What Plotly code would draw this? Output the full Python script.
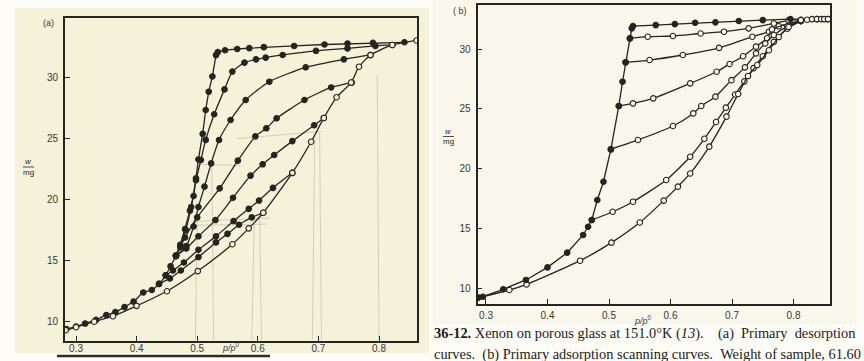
import plotly.graph_objects as go

W, H = 864, 361
INK = "#262420"
CREAM_A = "#f5f2da"
CREAM_B = "#f9f7eb"
PAGE = "#fcfbf6"

# ---------------- Panel (a): primary desorption curves ----------------
# adsorption boundary (open circles)
a_ads_x = [0.283, 0.300, 0.330, 0.361, 0.400, 0.450, 0.501, 0.558, 0.585, 0.609,
           0.657, 0.688, 0.709, 0.730, 0.754, 0.767, 0.786, 0.822, 0.862]
a_ads_y = [9.30, 9.55, 10.00, 10.45, 11.30, 12.50, 14.15, 16.35, 17.65, 18.93,
           22.20, 24.75, 26.70, 28.40, 29.60, 30.90, 31.85, 32.68, 33.05]

# common low-pressure desorption tail (filled)
a_tail_x = [0.465, 0.456, 0.448, 0.437, 0.425, 0.411, 0.395, 0.380, 0.365, 0.350,
            0.333, 0.315, 0.300, 0.284]
a_tail_y = [15.40, 14.55, 13.80, 13.10, 12.60, 12.40, 11.65, 11.20, 10.80, 10.55,
            10.15, 9.85, 9.60, 9.40]

# desorption scanning curves, each starting on the adsorption boundary
a_d1_x = [0.842, 0.790, 0.748, 0.710, 0.660, 0.610, 0.586, 0.566, 0.546, 0.534,
          0.531, 0.525, 0.519, 0.514, 0.509, 0.502, 0.498, 0.494, 0.488, 0.480,
          0.472, 0.465]
a_d1_y = [32.90, 32.85, 32.80, 32.72, 32.60, 32.50, 32.42, 32.35, 32.25, 32.10,
          31.85, 30.10, 28.85, 27.35, 25.40, 23.30, 21.75, 20.30, 19.10, 17.60,
          16.30, 15.40]
a_d2_x = [0.822, 0.794, 0.748, 0.696, 0.641, 0.613, 0.597, 0.578, 0.558, 0.545,
          0.528, 0.514, 0.506, 0.498, 0.490, 0.481, 0.472, 0.465]
a_d2_y = [32.68, 32.60, 32.40, 32.20, 31.86, 31.64, 31.50, 31.23, 30.50, 29.04,
          27.00, 24.90, 23.25, 21.60, 19.40, 17.50, 16.10, 15.40]
a_d3_x = [0.786, 0.742, 0.679, 0.619, 0.580, 0.555, 0.536, 0.523, 0.512, 0.502,
          0.494, 0.482, 0.465]
a_d3_y = [31.86, 31.50, 30.85, 29.67, 28.17, 26.53, 24.89, 22.98, 21.07, 19.40,
          17.80, 16.20, 15.40]
a_d4_x = [0.755, 0.721, 0.677, 0.631, 0.614, 0.596, 0.567, 0.537, 0.500, 0.480, 0.465]
a_d4_y = [29.60, 29.20, 28.17, 26.67, 25.85, 25.19, 23.20, 20.93, 18.55, 16.90, 15.40]
a_d5_x = [0.709, 0.693, 0.657, 0.627, 0.608, 0.588, 0.559, 0.530, 0.502, 0.482, 0.465]
a_d5_y = [26.70, 26.10, 24.80, 23.66, 22.90, 21.97, 20.16, 18.33, 17.00, 16.00, 15.40]
a_d6_x = [0.657, 0.625, 0.602, 0.585, 0.560, 0.531, 0.502, 0.478, 0.460, 0.448]
a_d6_y = [22.20, 20.97, 19.93, 19.25, 18.25, 17.00, 15.90, 14.85, 14.20, 13.80]
a_d7_x = [0.609, 0.590, 0.569, 0.550, 0.531, 0.502, 0.473, 0.455, 0.437]
a_d7_y = [18.93, 18.55, 17.95, 17.20, 16.50, 15.30, 14.20, 13.55, 13.10]

# ---------------- Panel (b): primary adsorption scanning curves ----------------
# desorption boundary (filled)
b_des_x = [0.856, 0.838, 0.795, 0.750, 0.711, 0.673, 0.640, 0.607, 0.576, 0.539,
           0.537, 0.534, 0.527, 0.522, 0.516, 0.503, 0.491, 0.481, 0.472, 0.466,
           0.458, 0.432, 0.400, 0.365, 0.328, 0.295, 0.287]
b_des_y = [32.50, 32.50, 32.50, 32.42, 32.34, 32.23, 32.20, 32.08, 32.00, 31.92,
           31.73, 30.89, 28.89, 27.27, 25.24, 21.62, 18.91, 17.38, 15.71, 15.15,
           14.46, 12.98, 11.75, 10.70, 9.92, 9.30, 9.22]
# adsorption boundary (open)
b_ads_x = [0.287, 0.338, 0.366, 0.453, 0.504, 0.550, 0.589, 0.612, 0.632, 0.663,
           0.691, 0.710, 0.726, 0.741, 0.760, 0.776, 0.792, 0.812]
b_ads_y = [9.22, 9.86, 10.33, 12.31, 13.82, 15.50, 17.33, 18.50, 19.60, 21.84,
           24.35, 26.24, 27.74, 28.66, 29.90, 31.00, 31.85, 32.35]
# adsorption scanning curves, each starting on the desorption boundary
b_s1_x = [0.534, 0.563, 0.604, 0.649, 0.687, 0.727, 0.768, 0.792, 0.812]
b_s1_y = [30.89, 31.03, 31.09, 31.30, 31.45, 31.73, 32.14, 32.40, 32.45]
b_s2_x = [0.527, 0.566, 0.620, 0.679, 0.733, 0.760, 0.776, 0.812]
b_s2_y = [28.89, 29.08, 29.50, 30.10, 31.03, 31.45, 31.90, 32.35]
b_s3_x = [0.516, 0.539, 0.572, 0.632, 0.675, 0.696, 0.718, 0.739, 0.757, 0.765, 0.812]
b_s3_y = [25.24, 25.46, 25.88, 27.13, 28.10, 28.75, 29.40, 30.20, 30.90, 31.64, 32.35]
b_s4_x = [0.503, 0.547, 0.604, 0.637, 0.650, 0.673, 0.699, 0.721, 0.739, 0.754, 0.768, 0.790, 0.812]
b_s4_y = [21.62, 22.40, 23.57, 24.62, 25.24, 26.02, 27.40, 28.47, 29.64, 30.47, 31.17, 31.90, 32.35]
b_s5_x = [0.472, 0.506, 0.539, 0.593, 0.632, 0.655, 0.674, 0.690, 0.705, 0.720, 0.735, 0.750, 0.768, 0.790, 0.812]
b_s5_y = [15.71, 16.40, 17.24, 19.05, 21.00, 22.50, 23.90, 25.10, 26.20, 27.30, 28.40, 29.40, 30.60, 31.70, 32.35]
# approach to saturation (open)
b_top_x = [0.812, 0.822, 0.830, 0.838, 0.845, 0.850, 0.856]
b_top_y = [32.42, 32.45, 32.50, 32.50, 32.50, 32.50, 32.50]

x_ticks = [0.3, 0.4, 0.5, 0.6, 0.7, 0.8]
x_labels = ["0.3", "0.4", "0.5", "0.6", "0.7", "0.8"]
y_ticks = [10, 15, 20, 25, 30]
y_labels = ["10", "15", "20", "25", "30"]

# faint pencil guide marks on panel (a): (x0, y0, x1, y1)
pencil = [
    (0.497, 8.5, 0.500, 18.6), (0.527, 8.5, 0.524, 23.0), (0.590, 8.5, 0.594, 18.2),
    (0.606, 8.5, 0.603, 18.9), (0.690, 8.5, 0.694, 25.2), (0.705, 8.5, 0.702, 25.5),
    (0.800, 8.5, 0.797, 30.2), (0.490, 18.2, 0.620, 18.5), (0.495, 17.9, 0.615, 18.0),
    (0.500, 22.9, 0.572, 22.8), (0.565, 25.0, 0.705, 25.6),
]

NB = "\u00a0"
caption_1 = ("<b>36-12.</b> Xenon on porous glass at 151.0°K (<i>13</i>)."
             + NB * 4 + "(a)" + NB * 2 + "Primary" + NB * 2 + "desorption")
caption_2 = "curves." + NB * 2 + "(b) Primary adsorption scanning curves." + NB * 2 + "Weight of sample, 61.60"


def px(x):
    return x / W


def py(y):
    return 1 - y / H


fig = go.Figure()


def curve(x, y, xa, ya, filled, bg, shape="spline"):
    fig.add_trace(go.Scatter(
        x=x, y=y, xaxis=xa, yaxis=ya, mode="lines+markers",
        line=dict(color=INK, width=1.3, shape=shape, smoothing=0.6),
        marker=dict(size=5.5, color=INK if filled else bg,
                    line=dict(color=INK, width=1.1)),
        hoverinfo="skip", showlegend=False,
    ))


# panel (a)
curve(a_d1_x, a_d1_y, "x", "y", True, CREAM_A, shape="linear")
for xs, ys in [(a_d2_x, a_d2_y), (a_d3_x, a_d3_y), (a_d4_x, a_d4_y),
               (a_d5_x, a_d5_y), (a_d6_x, a_d6_y), (a_d7_x, a_d7_y)]:
    curve(xs, ys, "x", "y", True, CREAM_A)
curve(a_tail_x, a_tail_y, "x", "y", True, CREAM_A)
curve(a_ads_x, a_ads_y, "x", "y", False, CREAM_A)

# panel (b)
for xs, ys in [(b_s1_x, b_s1_y), (b_s2_x, b_s2_y), (b_s3_x, b_s3_y),
               (b_s4_x, b_s4_y), (b_s5_x, b_s5_y), (b_ads_x, b_ads_y)]:
    curve(xs, ys, "x2", "y2", False, CREAM_B)
curve(b_des_x, b_des_y, "x2", "y2", True, CREAM_B, shape="linear")
curve(b_top_x, b_top_y, "x2", "y2", False, CREAM_B, shape="linear")

axis_common = dict(
    showgrid=False, zeroline=False, showline=True, mirror=True,
    linecolor=INK, linewidth=1.8, ticks="inside", ticklen=5, tickwidth=1.2,
    tickcolor=INK, tickfont=dict(family="Liberation Sans", size=10, color="#3a3833"),
)

fig.update_layout(
    width=W, height=H, margin=dict(l=0, r=0, t=0, b=0),
    paper_bgcolor=PAGE, plot_bgcolor="rgba(0,0,0,0)",
    xaxis=dict(domain=[px(65), px(417)], range=[0.2818, 0.8627], anchor="y",
               tickvals=x_ticks, ticktext=x_labels, ticklabelstandoff=-3, **axis_common),
    yaxis=dict(domain=[py(341), py(18)], range=[8.42, 34.89], anchor="x",
               tickvals=y_ticks, ticktext=y_labels, ticklabelstandoff=3, **axis_common),
    xaxis2=dict(domain=[px(477.5), px(830)], range=[0.2862, 0.8593], anchor="y2",
                tickvals=x_ticks, ticktext=x_labels, ticklabelstandoff=1, **axis_common),
    yaxis2=dict(domain=[py(304), py(5)], range=[8.69, 33.68], anchor="x2",
                tickvals=y_ticks, ticktext=y_labels, ticklabelstandoff=3, **axis_common),
)

shapes = [
    dict(type="rect", xref="paper", yref="paper", x0=px(15), x1=px(429), y0=py(353), y1=py(8),
         fillcolor=CREAM_A, line=dict(width=0), layer="below"),
    dict(type="rect", xref="paper", yref="paper", x0=px(433), x1=px(857), y0=py(324), y1=py(0),
         fillcolor=CREAM_B, line=dict(width=0), layer="below"),
    dict(type="line", xref="paper", yref="paper", x0=px(57), x1=px(270), y0=py(356), y1=py(356),
         line=dict(color="#2b2a27", width=2.5)),
    dict(type="line", xref="paper", yref="paper", x0=px(23), x1=px(34), y0=py(167), y1=py(167),
         line=dict(color=INK, width=0.8)),
    dict(type="line", xref="paper", yref="paper", x0=px(443), x1=px(454), y0=py(136.5), y1=py(136.5),
         line=dict(color=INK, width=0.8)),
]
for x0, y0, x1, y1 in pencil:
    shapes.append(dict(type="line", xref="x", yref="y", x0=x0, y0=y0, x1=x1, y1=y1,
                       line=dict(color="rgba(120,120,110,0.28)", width=1), layer="below"))
fig.update_layout(shapes=shapes)

small = dict(family="Liberation Sans", size=9, color="#3a3833")
cap = dict(family="Liberation Serif", size=14.4, color="#1e1d1b")
ann = [
    dict(x=px(48), y=py(23), text="(a)", font=small),
    dict(x=px(460), y=py(11), text="( b)", font=small),
    dict(x=px(28.5), y=py(162), text="<i>w</i>", font=dict(family="Liberation Sans", size=8, color=INK)),
    dict(x=px(28.5), y=py(172), text="mg", font=dict(family="Liberation Sans", size=8, color=INK)),
    dict(x=px(448.5), y=py(131.5), text="<i>w</i>", font=dict(family="Liberation Sans", size=8, color=INK)),
    dict(x=px(448.5), y=py(141.5), text="mg", font=dict(family="Liberation Sans", size=8, color=INK)),
    dict(x=px(231), y=py(347), text="<i>p/p</i><sup>0</sup>", font=small),
    dict(x=px(643), y=py(320), text="<i>p/p</i><sup>0</sup>", font=small),
    dict(x=px(432), y=py(333), xanchor="left", text=caption_1, font=cap),
    dict(x=px(432), y=py(354), xanchor="left", text=caption_2, font=cap),
]
for a in ann:
    a.setdefault("xanchor", "center")
    a.update(xref="paper", yref="paper", yanchor="middle", showarrow=False)
fig.update_layout(annotations=ann)

fig.write_html("out.html")
